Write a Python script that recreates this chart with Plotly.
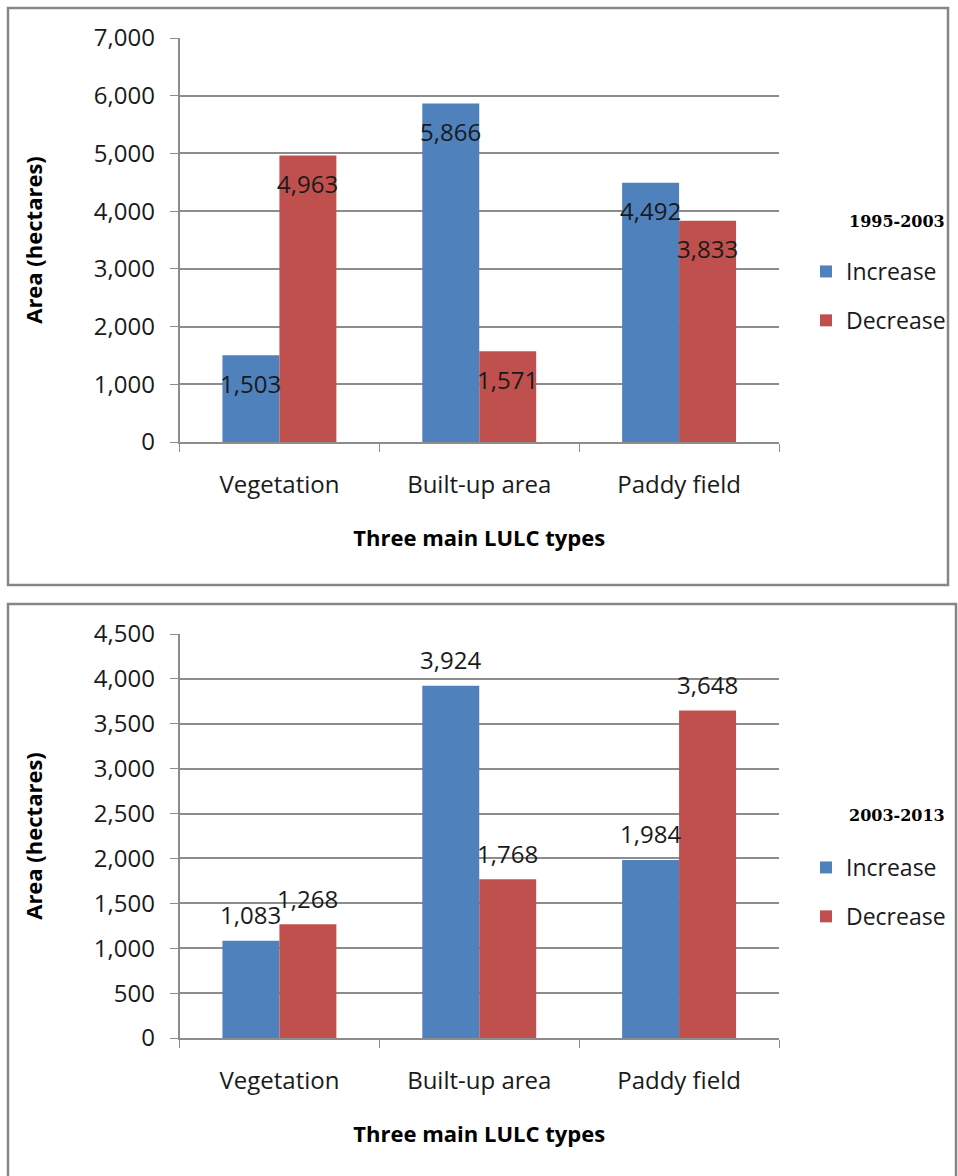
import plotly.graph_objects as go

# Land-use / land-cover change, hectares
categories = ["Vegetation", "Built-up area", "Paddy field"]
series_names = ["Increase", "Decrease"]
periods = ["1995-2003", "2003-2013"]

increase_1995_2003 = [1503, 5866, 4492]
decrease_1995_2003 = [4963, 1571, 3833]
increase_2003_2013 = [1083, 3924, 1984]
decrease_2003_2013 = [1268, 1768, 3648]

y_max = [7000, 4500]
y_step = [1000, 500]

W, H = 958, 1176
BLUE = "#4F81BD"
RED = "#C0504D"
GRID = "#8C8C8C"
TEXT = "#1A1A1A"
FONT = "Open Sans"


def py(pixel_y):
    """Convert a pixel row (from top) to paper y."""
    return 1 - pixel_y / H


def px(pixel_x):
    return pixel_x / W


panels = [
    dict(inc=increase_1995_2003, dec=decrease_1995_2003, top=38, bottom=442,
         label_shift=-28, legend="legend", leg_title_y=222, leg_top=250,
         frame=(8, 948, 585, 8)),
    dict(inc=increase_2003_2013, dec=decrease_2003_2013, top=634, bottom=1038,
         label_shift=26, legend="legend2", leg_title_y=815, leg_top=846,
         frame=(8, 956, 1190, 604)),
]

fig = go.Figure()
annotations = []
shapes = []
layout = {}

for i, p in enumerate(panels):
    n = "" if i == 0 else str(i + 1)
    xa, ya = "x" + n, "y" + n
    for name, vals, color, shift in [
        (series_names[0], p["inc"], BLUE, -28.5),
        (series_names[1], p["dec"], RED, 28.5),
    ]:
        fig.add_trace(go.Bar(
            x=categories, y=vals, name=name, marker_color=color,
            marker_line_width=0, xaxis=xa, yaxis=ya,
            legend=p["legend"], legendgroup=f"{name}{i}",
        ))
        for c, v in zip(categories, vals):
            annotations.append(dict(
                x=c, y=v, xref=xa, yref=ya, text=f"{v:,}", showarrow=False,
                xshift=shift, yshift=p["label_shift"],
                font=dict(family=FONT, size=24, color=TEXT),
            ))

    layout["xaxis" + n] = dict(
        domain=[px(179.5), px(779)], anchor=ya, type="category",
        showline=True, linecolor=GRID, linewidth=1.5,
        ticks="outside", tickson="boundaries", ticklen=8, tickcolor=GRID,
        showgrid=False, tickfont=dict(family=FONT, size=24, color=TEXT),
        ticklabelstandoff=20, automargin=False,
        title=dict(text="Three main LULC types", standoff=32,
                   font=dict(family=FONT, size=22, color="#000", weight="bold")),
    )
    layout["yaxis" + n] = dict(
        domain=[py(p["bottom"]), py(p["top"])], anchor=xa,
        range=[0, y_max[i]], dtick=y_step[i], tickformat=",d",
        showline=True, linecolor=GRID, linewidth=1.5,
        ticks="outside", ticklen=8, tickcolor=GRID,
        showgrid=True, gridcolor=GRID, gridwidth=1.5, zeroline=False,
        tickfont=dict(family=FONT, size=24, color=TEXT),
        ticklabelstandoff=10, automargin=False,
        title=dict(text="Area (hectares)", standoff=45,
                   font=dict(family=FONT, size=22, color="#000", weight="bold")),
    )
    layout[p["legend"]] = dict(
        x=px(806), y=py(p["leg_top"]), xanchor="left", yanchor="top",
        font=dict(family=FONT, size=23, color=TEXT),
        itemwidth=30, tracegroupgap=16, bgcolor="rgba(0,0,0,0)",
    )
    annotations.append(dict(
        x=px(897), y=py(p["leg_title_y"]), xref="paper", yref="paper",
        xanchor="center", yanchor="middle",
        text=f"<b>{periods[i]}</b>", showarrow=False,
        font=dict(family="DejaVu Serif", size=16, color="#000"),
    ))
    x0, x1, y0, y1 = p["frame"]
    shapes.append(dict(
        type="rect", xref="paper", yref="paper",
        x0=px(x0), x1=px(x1), y0=py(y0), y1=py(y1),
        line=dict(color="#868686", width=2.5), fillcolor="rgba(0,0,0,0)",
        layer="below",
    ))

fig.update_layout(
    width=W, height=H,
    margin=dict(l=0, r=0, t=0, b=0, pad=0, autoexpand=False),
    paper_bgcolor="white", plot_bgcolor="white",
    barmode="group", bargap=0.43, bargroupgap=0,
    showlegend=True, annotations=annotations, shapes=shapes,
    **layout,
)

fig.write_html("out.html")
